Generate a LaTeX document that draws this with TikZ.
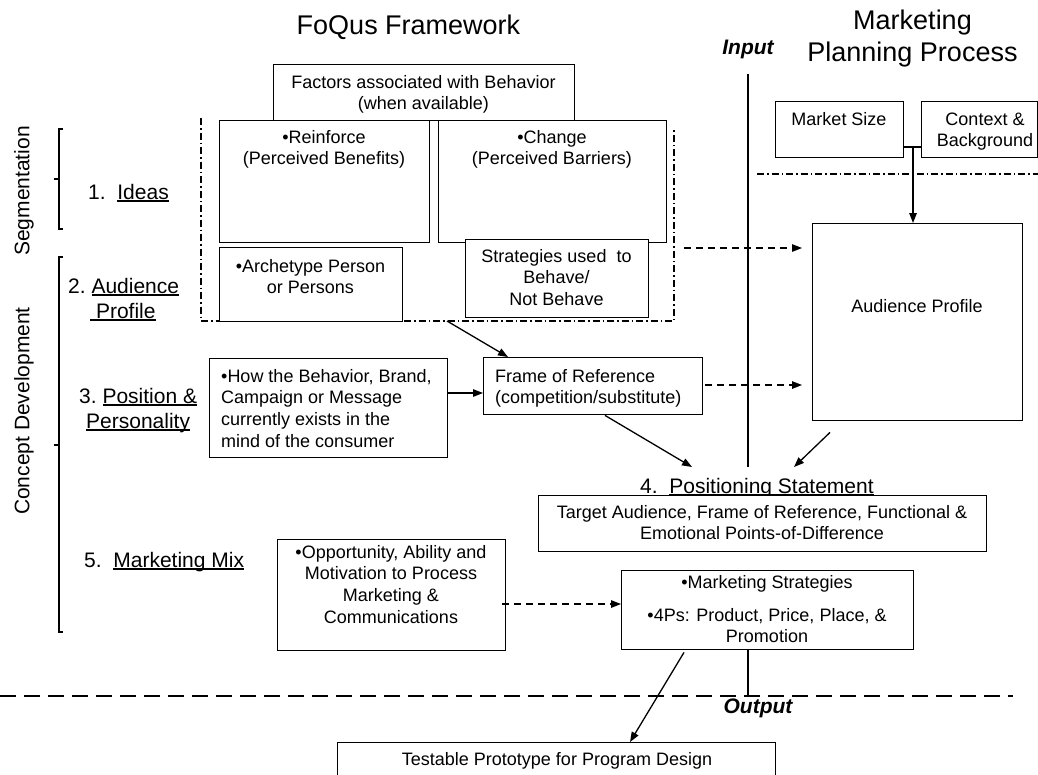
\documentclass[tikz,border=0pt]{standalone}
\usepackage{fontspec}
\setmainfont{Liberation Sans}
\usetikzlibrary{arrows.meta,calc}
\newsavebox\ulbox
\newcommand\myul[1]{\sbox\ulbox{#1}\rlap{\rule[-2.6pt]{\wd\ulbox}{1.2pt}}\usebox\ulbox}
\tikzset{
  box/.style={draw, line width=1.4pt, fill=white, inner sep=0pt, rectangle, anchor=north west},
  ln/.style={line width=1.3pt},
  arr/.style={ln, -{Triangle[length=10pt,width=7.5pt]}},
  darr/.style={arr, dash pattern=on 7pt off 5pt},
  dd/.style={line width=1.2pt, dash pattern=on 7pt off 3pt on 1.5pt off 3pt},
  tx/.style={font=\fontsize{18}{21.6}\selectfont, inner sep=0pt},
  lb/.style={font=\fontsize{21}{25.2}\selectfont, inner sep=0pt, anchor=base west},
  ttl/.style={font=\fontsize{27}{32.4}\selectfont, inner sep=0pt, anchor=base},
  io/.style={font=\fontsize{21}{25.2}\selectfont\bfseries\itshape, inner sep=0pt, anchor=base}
}
\begin{document}
\begin{tikzpicture}[x=1pt, y=-1pt]
\useasboundingbox (0,0) rectangle (1038,774);
\clip (0,0) rectangle (1038,774);
\fill[white] (0,0) rectangle (1038,774);

% titles
\node[ttl] (t1) at (408.5,34) {FoQus Framework};
\node[ttl] (t2) at (912.5,29) {Marketing};
\node[ttl] (t3) at (912.5,61) {Planning Process};
\node[io] (inp) at (748,54) {Input};
\node[io] (outp) at (758,713) {Output};

% left side labels
\node[tx, rotate=90] (seg) at (24,191) {\fontsize{21}{25.2}\selectfont Segmentation};
\node[tx, rotate=90] (cdev) at (24,411) {\fontsize{21}{25.2}\selectfont Concept Development};
\draw[ln] (63,129) -- (59,129) -- (59,229) -- (63,229);
\draw[ln] (59,179) -- (54,179);
\draw[ln] (63,257) -- (59,257) -- (59,632) -- (63,632);
\draw[ln] (59,445) -- (54,445);

\node[lb] (l1) at (88,199) {1.\ \ \myul{Ideas}};
\node[lb] (l2) at (68,293) {2.\ \myul{Audience}};
\node[lb] (l2b) at (90,318) {\myul{\ Profile}};
\node[lb] (l3) at (79,403) {3.\ \myul{Position \&}};
\node[lb] (l3b) at (86,428) {\myul{Personality}};
\node[lb] (l5) at (84,567) {5.\ \ \myul{Marketing Mix}};

% dash-dot enclosure and separators
\draw[dd] (201,118) -- (201,321) -- (674,321) -- (674,130);
\draw[dd] (757,174) -- (1038,174);
\draw[line width=1.3pt, dash pattern=on 16pt off 8pt] (0,696) -- (1013,696);

% input line
\coordinate (inTop) at (748,74);
\coordinate (inMid) at (748,467);
\coordinate (inLow) at (748,649);
\coordinate (inEnd) at (748,696);
\draw[ln] (inTop) -- (inMid);
\draw[ln] (inLow) -- (inEnd);

% FoQus boxes
\node[box, minimum width=301pt, minimum height=56pt] (fac) at (273,64) {};
\node[tx, anchor=north, align=center] (facT) at (423.5,72.9) {\strut Factors associated with Behavior\\(when available)};
\node[box, minimum width=210pt, minimum height=122pt] (rein) at (219,120) {};
\node[tx, anchor=north, align=center] (reinT) at (324,127.9) {\strut •Reinforce\\(Perceived Benefits)};
\node[box, minimum width=228pt, minimum height=122pt] (chg) at (438,120) {};
\node[tx, anchor=north, align=center] (chgT) at (552,127.9) {\strut •Change\\(Perceived Barriers)};
\node[box, minimum width=183pt, minimum height=74pt] (arch) at (219,247) {};
\node[tx, anchor=north, align=center] (archT) at (310.5,256.9) {\strut •Archetype Person\\or Persons};
\node[box, minimum width=183pt, minimum height=78pt] (strat) at (465,239) {};
\node[tx, anchor=north, align=center] (stratT) at (556.5,246.9) {\strut Strategies used\ \ to\\Behave/\\Not Behave};

\node[box, minimum width=238pt, minimum height=99pt] (how) at (209,358) {};
\node[tx, anchor=north west, align=left] (howT) at (221,366.9) {\strut •How the Behavior, Brand,\\Campaign or Message\\currently exists in the\\mind of the consumer};
\node[box, minimum width=219pt, minimum height=57pt] (frame) at (483,357) {};
\node[tx, anchor=north west, align=left] (frameT) at (495,366.9) {\strut Frame of Reference\\(competition/substitute)};

\node[box, minimum width=228pt, minimum height=111pt] (opp) at (277,539) {};
\node[tx, anchor=north, align=center] (oppT) at (391,542.9) {\strut •Opportunity, Ability and\\Motivation to Process\\Marketing \&\\Communications};

% right side boxes
\node[box, minimum width=128pt, minimum height=56pt] (msize) at (775,101) {};
\node[tx, anchor=base] (msizeT) at (839,125) {Market Size};
\node[box, minimum width=116pt, minimum height=56pt] (ctx) at (921,101) {};
\node[tx, anchor=north, align=center] (ctxT) at (985,109.9) {\strut Context \&\\Background};
\node[box, minimum width=210pt, minimum height=197pt] (aud) at (812,223) {};
\node[tx, anchor=base] (audT) at (917,312) {Audience Profile};

\node[lb] (posL) at (640,493) {4.\ \ \myul{Positioning Statement}};
\node[box, minimum width=448pt, minimum height=56pt] (pos) at (538,495) {};
\node[tx, anchor=north, align=center] (posT) at (762,502.9) {\strut Target Audience, Frame of Reference, Functional \&\\Emotional Points-of-Difference};

\node[box, minimum width=292pt, minimum height=79pt] (mkt) at (621,570) {};
\node[tx, anchor=base] (mktT1) at (767,588) {•Marketing Strategies};
\node[tx, anchor=north, align=center] (mktT2) at (767,605.9) {\strut •4Ps: Product, Price, Place, \&\\Promotion};

\node[box, minimum width=438pt, minimum height=60pt] (test) at (337,742) {};
\node[tx, anchor=base] (testT) at (557,765) {Testable Prototype for Program Design};

% connectors
\coordinate (encB) at (447,321);
\coordinate (encR) at (684,248);
\coordinate (join) at (913,147);
\draw[arr] (encB) -- ($(frame.north west)+(25,0)$);
\draw[arr] (how.east |- 0,393) -- (frame.west |- 0,393);
\draw[darr] (encR) -- ($(aud.west |- 0,248)+(-10,0)$);
\draw[darr] ($(frame.east |- 0,385)+(2,0)$) -- ($(aud.west |- 0,385)+(-10,0)$);
\draw[arr] ($(frame.south west)+(122,0)$) -- ($(pos.north west)+(154,-28)$);
\draw[arr] ($(aud.south west)+(18,11)$) -- ($(pos.north west)+(256,-28)$);
\draw[ln] (msize.east |- join) -- (ctx.west |- join);
\draw[arr] (join) -- (aud.north -| join);
\draw[darr] ($(opp.east |- 0,604)+(-4,0)$) -- (mkt.west |- 0,604);
\draw[arr] ($(mkt.south west)+(63,2)$) -- ($(test.north west)+(293,0)$);
\end{tikzpicture}
\end{document}
